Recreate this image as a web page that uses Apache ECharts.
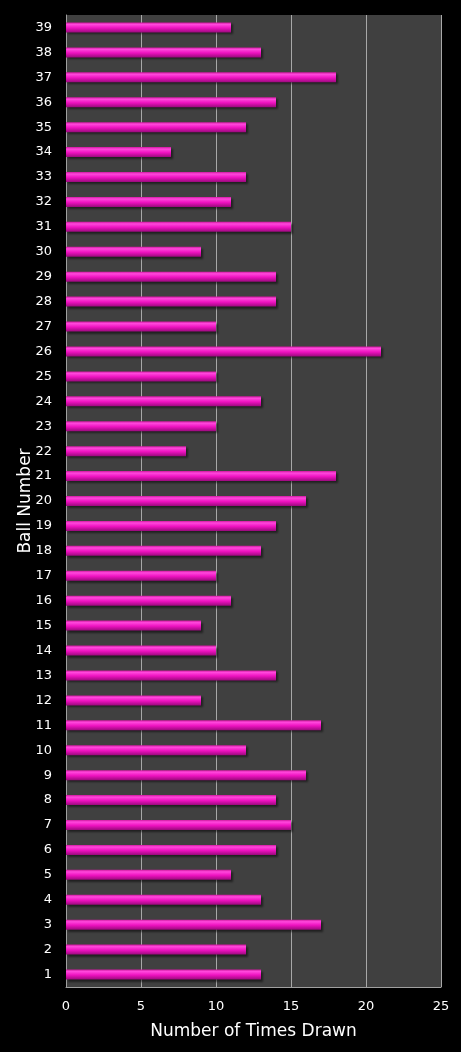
<!DOCTYPE html>
<html>
<head>
<meta charset="utf-8">
<script src="https://cdn.jsdelivr.net/npm/echarts@6/dist/echarts.min.js"></script>
<style>html,body{margin:0;padding:0;background:#000;}#c{width:461px;height:1052px;}</style>
</head>
<body>
<div id="c"></div>
<script>
const categories = ["1","2","3","4","5","6","7","8","9","10","11","12","13","14","15","16","17","18","19","20","21","22","23","24","25","26","27","28","29","30","31","32","33","34","35","36","37","38","39"];
const timesDrawn = [13,12,17,13,11,14,15,14,16,12,17,9,14,10,9,11,10,13,14,16,18,8,10,13,10,21,10,14,14,9,15,11,12,7,12,14,18,13,11];
const xTicks = [0,5,10,15,20,25];

const chart = echarts.init(document.getElementById('c'));
chart.setOption({
  backgroundColor: '#000000',
  animation: false,
  grid: { left: 66, right: 20, top: 15, bottom: 65, show: true, backgroundColor: '#404040', borderWidth: 0 },
  xAxis: {
    type: 'value', min: xTicks[0], max: xTicks[xTicks.length-1], interval: 5,
    name: 'Number of Times Drawn', nameLocation: 'middle', nameGap: 36, nameMoveOverlap: false,
    nameTextStyle: { color: '#ffffff', fontSize: 17, fontFamily: 'DejaVu Sans' },
    axisLine: { show: true, lineStyle: { color: '#a0a0a0', width: 1 } },
    axisTick: { show: false },
    axisLabel: { color: '#ffffff', fontSize: 13, fontFamily: 'DejaVu Sans', margin: 13 },
    splitLine: { show: true, lineStyle: { color: '#a8a8a8', width: 1 } }
  },
  yAxis: {
    type: 'category', data: categories,
    name: 'Ball Number', nameLocation: 'middle', nameGap: 32, nameRotate: 90, nameMoveOverlap: false,
    nameTextStyle: { color: '#ffffff', fontSize: 17, fontFamily: 'DejaVu Sans' },
    axisLine: { show: true, lineStyle: { color: '#a0a0a0', width: 1 } },
    axisTick: { show: false },
    axisLabel: { color: '#ffffff', fontSize: 13, fontFamily: 'DejaVu Sans', margin: 14 },
    splitLine: { show: false }
  },
  series: [{
    type: 'bar', data: timesDrawn, barWidth: 10,
    itemStyle: {
      color: new echarts.graphic.LinearGradient(0, 0, 0, 1, [
        { offset: 0, color: '#d0189f' },
        { offset: 0.2, color: '#ff48dc' },
        { offset: 0.55, color: '#ee12c0' },
        { offset: 1, color: '#9a0a7c' }
      ]),
      shadowColor: 'rgba(0,0,0,0.5)', shadowOffsetX: 2, shadowOffsetY: 2, shadowBlur: 2
    }
  }]
});
</script>
</body>
</html>
